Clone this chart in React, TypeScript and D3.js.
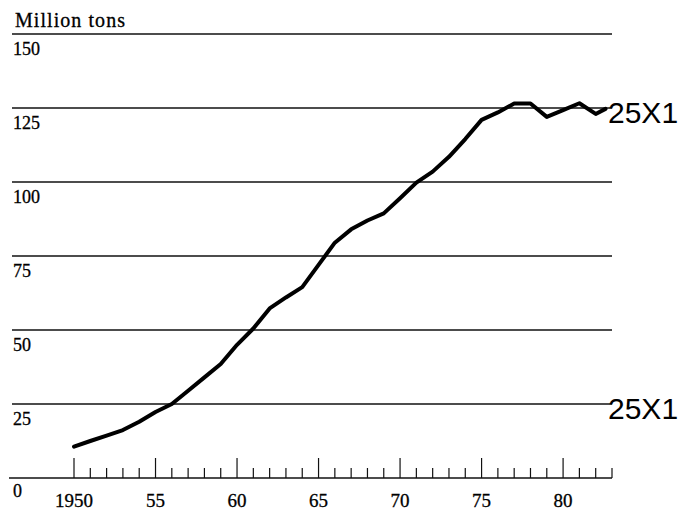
import React, { useEffect, useRef } from 'react';
import * as d3 from 'd3';

// yearly output, million tons
const years = [
  1950, 1951, 1952, 1953, 1954, 1955, 1956, 1957, 1958, 1959,
  1960, 1961, 1962, 1963, 1964, 1965, 1966, 1967, 1968, 1969,
  1970, 1971, 1972, 1973, 1974, 1975, 1976, 1977, 1978, 1979,
  1980, 1981, 1982, 1982.6,
];
const tons = [
  10.6, 12.5, 14.3, 16.2, 19, 22.3, 25, 29.5, 34, 38.5,
  45, 50.5, 57.3, 61, 64.5, 72, 79.5, 84, 87, 89.4,
  94.5, 99.8, 103.5, 108.5, 114.5, 121, 123.5, 126.5, 126.5, 122,
  124.3, 126.6, 123, 124.7,
];

const yTicks = [0, 25, 50, 75, 100, 125, 150];
const xMajor = [1950, 1955, 1960, 1965, 1970, 1975, 1980];
const xLabels = ['1950', '55', '60', '65', '70', '75', '80'];
const stampLabels = ['25X1', '25X1'];
const stampValues = [125, 25];

export default function App() {
  const ref = useRef<SVGSVGElement>(null);

  useEffect(() => {
    const svg = d3.select(ref.current);
    svg.selectAll('*').remove();

    const x = d3.scaleLinear().domain([1950, 1983]).range([74, 612]);
    const y = d3.scaleLinear().domain([0, 150]).range([478, 34]);

    const serif = '"Liberation Serif", "Times New Roman", serif';

    // title
    svg.append('text')
      .attr('x', 15)
      .attr('y', 27)
      .attr('font-family', serif)
      .attr('font-size', 20)
      .attr('textLength', 110)
      .attr('lengthAdjust', 'spacing')
      .attr('stroke', '#000')
      .attr('stroke-width', 0.3)
      .text('Million tons');

    // horizontal guides
    const grid = yTicks.filter(d => d > 0);
    svg.append('g')
      .selectAll('line')
      .data(grid)
      .enter()
      .append('line')
      .attr('x1', 12)
      .attr('x2', 612)
      .attr('y1', d => y(d))
      .attr('y2', d => y(d))
      .attr('stroke', '#111')
      .attr('stroke-width', 1.5);

    // value labels under each guide
    svg.append('g')
      .selectAll('text')
      .data(yTicks)
      .enter()
      .append('text')
      .attr('x', 13)
      .attr('y', d => y(d) + (d === 0 ? 19 : 21))
      .attr('font-family', serif)
      .attr('font-size', 18)
      .attr('stroke', '#000')
      .attr('stroke-width', 0.3)
      .text(d => String(d));

    // baseline
    svg.append('line')
      .attr('x1', 9)
      .attr('x2', 612)
      .attr('y1', y(0))
      .attr('y2', y(0))
      .attr('stroke', '#111')
      .attr('stroke-width', 1.5);

    // year ticks
    const allYears = d3.range(1950, 1984);
    svg.append('g')
      .selectAll('line')
      .data(allYears)
      .enter()
      .append('line')
      .attr('x1', d => x(d))
      .attr('x2', d => x(d))
      .attr('y1', y(0))
      .attr('y2', d => (d % 5 === 0 ? y(0) - 20 : y(0) - 10))
      .attr('stroke', '#111')
      .attr('stroke-width', 1.2);

    svg.append('g')
      .selectAll('text')
      .data(xMajor)
      .enter()
      .append('text')
      .attr('x', d => x(d))
      .attr('y', 507)
      .attr('text-anchor', 'middle')
      .attr('font-family', serif)
      .attr('font-size', 19)
      .attr('stroke', '#000')
      .attr('stroke-width', 0.3)
      .text((d, i) => xLabels[i]);

    // the series
    const line = d3.line<number>()
      .x((d, i) => x(years[i]))
      .y(d => y(d));

    svg.append('path')
      .datum(tons)
      .attr('d', line)
      .attr('fill', 'none')
      .attr('stroke', '#000')
      .attr('stroke-width', 4)
      .attr('stroke-linejoin', 'round')
      .attr('stroke-linecap', 'round');

    // stamps on the right
    svg.append('g')
      .selectAll('text')
      .data(stampValues)
      .enter()
      .append('text')
      .attr('x', 608)
      .attr('y', d => y(d) + 15)
      .attr('font-family', '"Liberation Sans", Arial, sans-serif')
      .attr('font-size', 30)
      .text((d, i) => stampLabels[i]);
  }, []);

  return (
    <svg
      ref={ref}
      width={680}
      height={513}
      style={{ position: 'absolute', left: 0, top: 0, background: '#fff' }}
    />
  );
}
